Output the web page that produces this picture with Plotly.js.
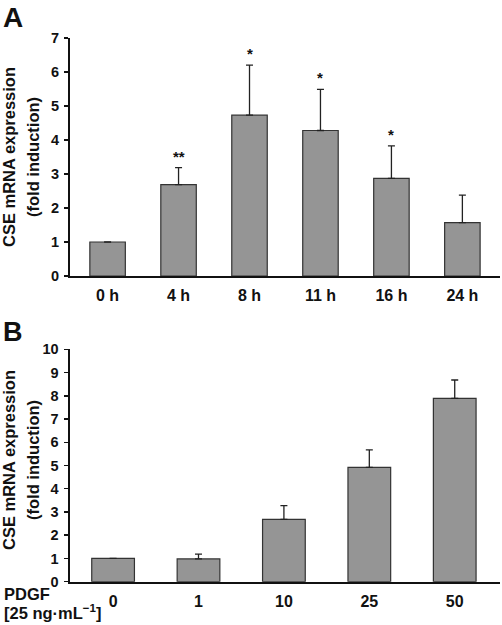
<!DOCTYPE html>
<html>
<head>
<meta charset="utf-8">
<script src="https://cdn.plot.ly/plotly-3.0.1.min.js"></script>
<style>html,body{margin:0;padding:0;background:#fff;}#chart{width:502px;height:625px;}</style>
</head>
<body>
<div id="chart"></div>
<script>
// Panel A: time course
const timeLabels = ["0 h", "4 h", "8 h", "11 h", "16 h", "24 h"];
const timeValues = [1.0, 2.69, 4.73, 4.28, 2.87, 1.57];
const timeErrors = [0, 0.50, 1.47, 1.21, 0.96, 0.81];
const timeStars = ["", "**", "*", "*", "*", ""];

// Panel B: PDGF dose
const doseLabels = ["0", "1", "10", "25", "50"];
const doseValues = [1.0, 0.98, 2.68, 4.92, 7.89];
const doseErrors = [0, 0.21, 0.59, 0.75, 0.79];
const doseStars = ["", "", "*", "**", "***"];

const FONT = "Liberation Sans, Arial, sans-serif";
const barColor = "#959595";
const lineColor = "#222222";

function barTrace(labels, vals, errs, xa, ya) {
  return {
    type: "bar", x: labels, y: vals, xaxis: xa, yaxis: ya, width: 0.5,
    marker: {color: barColor, line: {color: "#333333", width: 1.2}},
    error_y: {type: "data", symmetric: false, array: errs, arrayminus: errs.map(() => 0),
              color: lineColor, thickness: 1.3, width: 3.5},
    showlegend: false, hoverinfo: "skip"
  };
}

const starAnn = [];
function addStars(labels, vals, errs, stars, xref, yref) {
  labels.forEach((l, i) => {
    if (!stars[i]) return;
    starAnn.push({x: l, y: vals[i] + errs[i], xref: xref, yref: yref, text: "<b>" + stars[i] + "</b>",
      showarrow: false, yanchor: "bottom", yshift: 1,
      font: {family: FONT, size: 15, color: "#111"}});
  });
}
addStars(timeLabels, timeValues, timeErrors, timeStars, "x", "y");
addStars(doseLabels, doseValues, doseErrors, doseStars, "x2", "y2");

const bold = s => "<b>" + s + "</b>";
const axisY = (dom, max, anchor) => {
  const vals = [];
  for (let v = 0; v <= max; v++) vals.push(v);
  return {
    domain: dom, range: [0, max], anchor: anchor, tickvals: vals, ticktext: vals.map(v => bold(v)),
    showgrid: false, zeroline: false,
    showline: true, linecolor: "#111", linewidth: 2, ticks: "outside", ticklen: 4,
    tickwidth: 1.5, tickcolor: "#111", tickfont: {family: FONT, size: 14.5, color: "#111"},
    ticklabelstandoff: 2, fixedrange: true
  };
};
const axisX = (dom, range, anchor, labels) => ({
  domain: dom, range: range, anchor: anchor, type: "category", showgrid: false, zeroline: false,
  tickvals: labels, ticktext: labels.map(bold),
  showline: true, linecolor: "#111", linewidth: 2, ticks: "", ticklabelstandoff: 4,
  tickfont: {family: FONT, size: 16, color: "#111"}, fixedrange: true
});

const titleFont = {family: FONT, size: 16.5, color: "#111"};
function vtitle(x, yc, text) {
  return {x: x / 502, y: 1 - yc / 625, xref: "paper", yref: "paper", text: bold(text),
    textangle: -90, showarrow: false, xanchor: "center", yanchor: "middle", font: titleFont};
}
const annotations = starAnn.concat([
  {x: 0.002, y: 1, xref: "paper", yref: "paper", text: bold("A"), showarrow: false,
   xanchor: "left", yanchor: "top", font: {family: FONT, size: 28, color: "#111"}},
  {x: 0.002, y: 1 - 315/625, xref: "paper", yref: "paper", text: bold("B"), showarrow: false,
   xanchor: "left", yanchor: "top", font: {family: FONT, size: 27, color: "#111"}},
  vtitle(9, 157, "CSE mRNA expression"),
  vtitle(33, 157, "(fold induction)"),
  vtitle(9, 460, "CSE mRNA expression"),
  vtitle(33, 460, "(fold induction)"),
  {x: 0.004, y: 1 - 594/625, xref: "paper", yref: "paper", text: bold("PDGF"), showarrow: false,
   xanchor: "left", yanchor: "middle", font: titleFont},
  {x: 0.004, y: 1 - 612/625, xref: "paper", yref: "paper", text: bold("[25 ng·mL<sup>−1</sup>]"), showarrow: false,
   xanchor: "left", yanchor: "middle", font: titleFont}
]);

const layout = {
  width: 502, height: 625, margin: {l: 0, r: 0, t: 0, b: 0},
  paper_bgcolor: "#fff", plot_bgcolor: "#fff", showlegend: false,
  xaxis: axisX([0.1394, 0.996], [-0.53, 5.53], "y", timeLabels),
  yaxis: axisY([1 - 276/625, 1 - 38/625], 7, "x"),
  xaxis2: axisX([0.1385, 0.996], [-0.51, 4.53], "y2", doseLabels),
  yaxis2: axisY([1 - 581.7/625, 1 - 349.3/625], 10, "x2"),
  annotations: annotations
};

Plotly.newPlot("chart", [
  barTrace(timeLabels, timeValues, timeErrors, "x", "y"),
  barTrace(doseLabels, doseValues, doseErrors, "x2", "y2")
], layout, {staticPlot: true});
</script>
</body>
</html>
